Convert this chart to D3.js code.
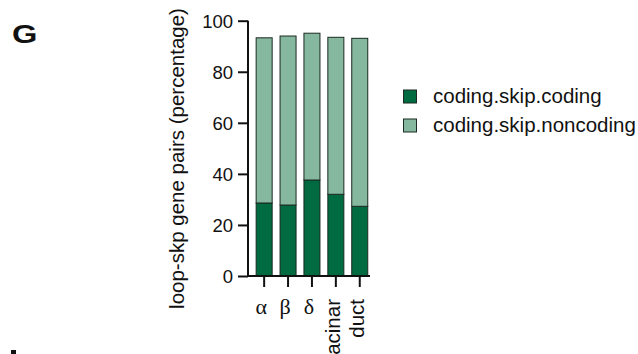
<!DOCTYPE html>
<html>
<head>
<meta charset="utf-8">
<script src="https://cdn.jsdelivr.net/npm/d3@7"></script>
<style>
  html, body { margin: 0; padding: 0; background: #fff; }
  svg { display: block; }
  text { fill: #111; }
</style>
</head>
<body>
<svg id="chart" width="638" height="354"></svg>
<script>
// Cell types on the x axis
const categories = ["α", "β", "δ", "acinar", "duct"];
// Series: percentage of loop-skipping gene pairs
const seriesNames = ["coding.skip.coding", "coding.skip.noncoding"];
const codingSkipCoding = [28.6, 27.8, 37.6, 32.0, 27.3];
const codingSkipNoncoding = [64.7, 66.2, 57.5, 61.5, 65.8];
const yTicks = [0, 20, 40, 60, 80, 100];

const colors = ["#006a40", "#85b89f"];
const sans = "'Liberation Sans', Arial, Helvetica, sans-serif";
const serif = "'Liberation Serif', 'Times New Roman', serif";

const svg = d3.select("#chart");

const axisX = 248, axisRight = 370;
const y = d3.scaleLinear().domain([0, 100]).range([276, 20.7]);
const x = d3.scaleBand().domain(categories).range([252.2, 371.7])
  .paddingInner(0.33).paddingOuter(0.165);

// stacked data
const rows = categories.map((c, i) => ({ cat: c, a: codingSkipCoding[i], b: codingSkipNoncoding[i] }));
const stack = d3.stack().keys(["a", "b"])(rows);

svg.append("g").selectAll("g").data(stack).join("g")
  .attr("fill", (d, i) => colors[i])
  .selectAll("rect").data(d => d).join("rect")
  .attr("x", d => x(d.data.cat))
  .attr("width", x.bandwidth())
  .attr("y", d => y(d[1]))
  .attr("height", d => y(d[0]) - y(d[1]))
  .attr("stroke", "#1b2a22")
  .attr("stroke-width", 1);

// Y axis
const yAxis = svg.append("g").attr("transform", `translate(${axisX},0)`)
  .call(d3.axisLeft(y).tickValues(yTicks).tickSize(10).tickPadding(5));
yAxis.select(".domain").attr("stroke", "#111").attr("stroke-width", 2)
  .attr("d", `M0,${y(100)}V${y(0) + 1}`);
yAxis.selectAll(".tick line").attr("stroke", "#111").attr("stroke-width", 2);
yAxis.selectAll(".tick text").attr("font-family", sans).attr("font-size", 18.5)
  .attr("fill", "#111").attr("dy", "0.36em");

// X axis baseline
svg.append("line")
  .attr("x1", axisX - 1).attr("x2", axisRight)
  .attr("y1", y(0)).attr("y2", y(0))
  .attr("stroke", "#111").attr("stroke-width", 2);

// X ticks
svg.append("g").selectAll("line").data(categories).join("line")
  .attr("x1", d => x(d) + x.bandwidth() / 2)
  .attr("x2", d => x(d) + x.bandwidth() / 2)
  .attr("y1", y(0)).attr("y2", y(0) + 11)
  .attr("stroke", "#111").attr("stroke-width", 2);

// X labels: Greek letters upright, words rotated
const xl = svg.append("g");
categories.forEach(c => {
  const cx = x(c) + x.bandwidth() / 2;
  if (c.length === 1) {
    xl.append("text").attr("x", cx - 3).attr("y", 314)
      .attr("text-anchor", "middle").attr("font-family", serif)
      .attr("font-size", 22).text(c);
  } else {
    xl.append("text")
      .attr("transform", `translate(${cx + 4},299) rotate(-90)`)
      .attr("text-anchor", "end").attr("font-family", sans)
      .attr("font-size", 20.5).text(c);
  }
});

// Y axis title
svg.append("text")
  .attr("transform", `translate(184,158.5) rotate(-90)`)
  .attr("text-anchor", "middle").attr("font-family", sans)
  .attr("font-size", 20.5).text("loop-skp gene pairs (percentage)");

// Legend
const lg = svg.append("g");
seriesNames.forEach((s, i) => {
  const ly = 90 + i * 29;
  lg.append("rect").attr("x", 403.5).attr("y", ly).attr("width", 13).attr("height", 13)
    .attr("fill", colors[i]).attr("stroke", "#1b2a22").attr("stroke-width", 1);
  lg.append("text").attr("x", 433).attr("y", ly + 13)
    .attr("font-family", sans).attr("font-size", 20.5).text(s);
});

// Panel letter
svg.append("text").attr("transform", "translate(12,43.3) scale(1.28,1)")
  .attr("font-family", sans).attr("font-weight", "bold").attr("font-size", 25.5).text("G");
// top edge of the next panel's letter, running off the bottom
svg.append("rect").attr("x", 11).attr("y", 350).attr("width", 5).attr("height", 4).attr("fill", "#111");
</script>
</body>
</html>
